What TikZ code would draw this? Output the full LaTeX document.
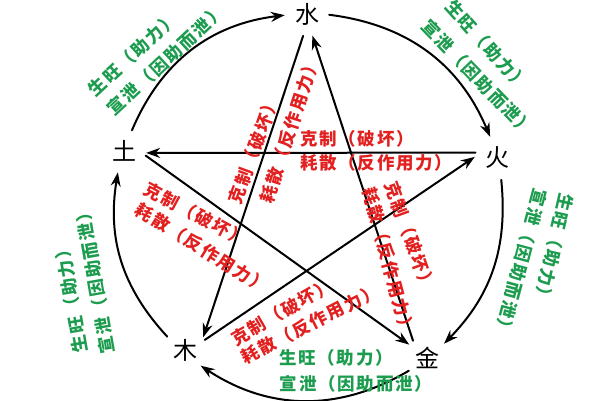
\documentclass[tikz,border=0pt]{standalone}
\usepackage{fontspec}
\newfontfamily\cjk{Noto Sans CJK SC}
\newfontfamily\cjkwide[LetterSpace=10]{Noto Sans CJK SC}
\usetikzlibrary{arrows.meta}
\definecolor{kered}{RGB}{226,32,32}
\definecolor{shgreen}{RGB}{28,156,78}
\tikzset{
	elem/.style={circle, minimum size=44pt, inner sep=0pt, font=\cjk\fontsize{24}{24}\selectfont},
	kelab/.style={text=kered, inner sep=0pt, font=\cjkwide\bfseries\fontsize{17.5}{18}\selectfont},
	shlab/.style={text=shgreen, inner sep=0pt, font=\cjkwide\bfseries\fontsize{17.5}{18}\selectfont},
	flow/.style={-{Stealth[length=14pt,width=10pt]}, line width=2pt}
}
\begin{document}
\begin{tikzpicture}[x=1pt, y=1pt, line join = round, line cap = round]
	\useasboundingbox (0,0) rectangle (600,400);
	\node[elem] (shui) at (307,386) {水};
	\node[elem] (huo) at (497,242) {火};
	\node[elem] (jin) at (427,42) {金};
	\node[elem] (mu) at (185,50) {木};
	\node[elem] (tu) at (124,249) {土};
	% star
	\draw[flow] (huo.166) -- (tu.-5);
	\draw[flow] (tu.-12) -- (jin.143);
	\draw[flow] (jin.129) -- (shui.-76);
	\draw[flow] (shui.-100) -- (mu.35);
	\draw[flow] (mu.27) -- (huo.177);
	% circle
	\draw[flow] (tu.69) to[bend left=30] (shui.183);
	\draw[flow] (shui.-2) to[bend left=30] (huo.108);
	\draw[flow] (huo.-79) to[bend left=25] (jin.40);
	\draw[flow] (jin.215) to[bend left=32] (mu.-45);
	\draw[flow] (mu.143) to[bend left=26] (tu.-106);
	% red labels
	\node[kelab, rotate=70] (kA) at (254,250) {克制（破坏）};
	\node[kelab, rotate=72] (hA) at (290,270) {耗散（反作用力）};
	\node[kelab, anchor=west] (kB) at (300,261) {克制（破坏）};
	\node[kelab, anchor=west] (hB) at (300,237) {耗散（反作用力）};
	\node[kelab, rotate=-28] (kC) at (196,186) {克制（破坏）};
	\node[kelab, rotate=-32] (hC) at (202,152) {耗散（反作用力）};
	\node[kelab, rotate=30] (kD) at (282,88) {克制（破坏）};
	\node[kelab, rotate=27] (hD) at (310,76) {耗散（反作用力）};
	\node[kelab, rotate=-70] (kE) at (410,164) {克制（破坏）};
	\node[kelab, rotate=-75] (hE) at (389,139) {耗散（反作用力）};
	% green labels
	\node[shlab, rotate=43] (sA) at (133,346) {生旺（助力）};
	\node[shlab, rotate=43] (xA) at (166,340) {宣泄（因助而泄）};
	\node[shlab, rotate=-48] (sB) at (487,355) {生旺（助力）};
	\node[shlab, rotate=-46] (xB) at (478,322) {宣泄（因助而泄）};
	\node[shlab, rotate=-103] (sC) at (554,151) {生旺（助力）};
	\node[shlab, rotate=-105] (xC) at (521,137) {宣泄（因助而泄）};
	\node[shlab, rotate=100] (sD) at (71,103) {生旺（助力）};
	\node[shlab, rotate=100] (xD) at (95,121) {宣泄（因助而泄）};
	\node[shlab] (sE) at (336,42) {生旺（助力）};
	\node[shlab] (xE) at (356,16) {宣泄（因助而泄）};
\end{tikzpicture}
\end{document}
